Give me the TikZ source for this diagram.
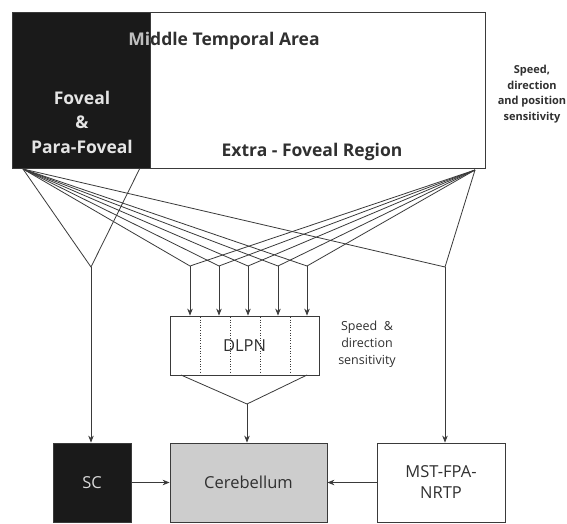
\documentclass[tikz,border=0pt]{standalone}
\usepackage{fontspec}
\setmainfont{Open Sans}
\usetikzlibrary{arrows.meta}
\definecolor{linegray}{HTML}{3A3A3A}
\definecolor{textgray}{HTML}{303030}
\definecolor{boxblack}{HTML}{1A1A1A}
\definecolor{cerebgray}{HTML}{CDCDCD}
\begin{document}
\begin{tikzpicture}[x=1pt,y=-1pt,>={Stealth[length=7pt,width=5.5pt]},color=linegray,line width=0.8pt,
  box/.style={draw,inner sep=0pt,text=textgray,align=center,font=\fontsize{16.5}{21}\selectfont},
  bigtext/.style={font=\bfseries\fontsize{17.5}{24.5}\selectfont},
  smalltext/.style={font=\bfseries\fontsize{11}{15.7}\selectfont,text=textgray,align=center}]
\useasboundingbox[fill=white] (0,0) rectangle (567,523);
\node[box,minimum width=473pt,minimum height=156pt] (mt) at (248.5,90) {};
\node[box,fill=boxblack,minimum width=138pt,minimum height=156pt] (fov) at (81,90) {};
\node[bigtext,text=textgray] (mta) at (224,41) {Middle Temporal Area};
\begin{scope}
\clip (fov.north west) rectangle (fov.south east);
\node[bigtext,text=black!25] (mtb) at (224,41) {Middle Temporal Area};
\end{scope}
\node[bigtext,text=white!90!black,align=center] (fovtext) at (82,122) {Foveal\\\&\\Para-Foveal};
\node[bigtext,text=textgray] (extra) at (312,152) {Extra - Foveal Region};
\node[smalltext] (mtsens) at (532,94) {Speed,\\direction\\and position\\sensitivity};

\node[box,minimum width=149pt,minimum height=59pt] (dlpn) at (244.5,345.5) {DLPN};
\foreach \x in {200,230,260,290}
  \draw[dotted,line width=0.6pt] (\x,317) -- (\x,374);
\node[smalltext,font=\fontsize{12.5}{17}\selectfont] (dlpnsens) at (367,344) {Speed \ \&\\direction\\sensitivity};

\node[box,fill=boxblack,text=white!85!black,minimum width=78pt,minimum height=79pt] (sc) at (92,482.5) {SC};
\node[box,fill=cerebgray,minimum width=157pt,minimum height=79pt] (cereb) at (248.5,482.5) {Cerebellum};
\node[box,minimum width=128pt,minimum height=79pt] (mst) at (441,482.5) {MST-FPA-\\NRTP};

\coordinate (lo) at (23,169);
\coordinate (lb) at (140,168);
\coordinate (ro) at (475,170);
\coordinate (lv) at (91,267);
\coordinate (rv) at (445,267);
\coordinate (dv) at (247,404);

\draw (lo) -- (lv) -- (lb);
\draw (lo) -- (rv) -- (ro);
\foreach \i/\x in {1/190,2/219,3/248,4/278,5/307} {
  \coordinate (t\i) at (\x,266);
  \draw (lo) -- (t\i) -- (ro);
  \draw[->] (t\i) -- (t\i |- dlpn.north);
}
\draw (181,375) -- (dv) -- (307,375);
\draw[->] (dv) -- (dv |- cereb.north);
\draw[->] (lv) -- (lv |- sc.north);
\draw[->] (rv) -- (rv |- mst.north);
\draw[->] (sc) -- (cereb);
\draw[->] (mst) -- (cereb);
\end{tikzpicture}
\end{document}
